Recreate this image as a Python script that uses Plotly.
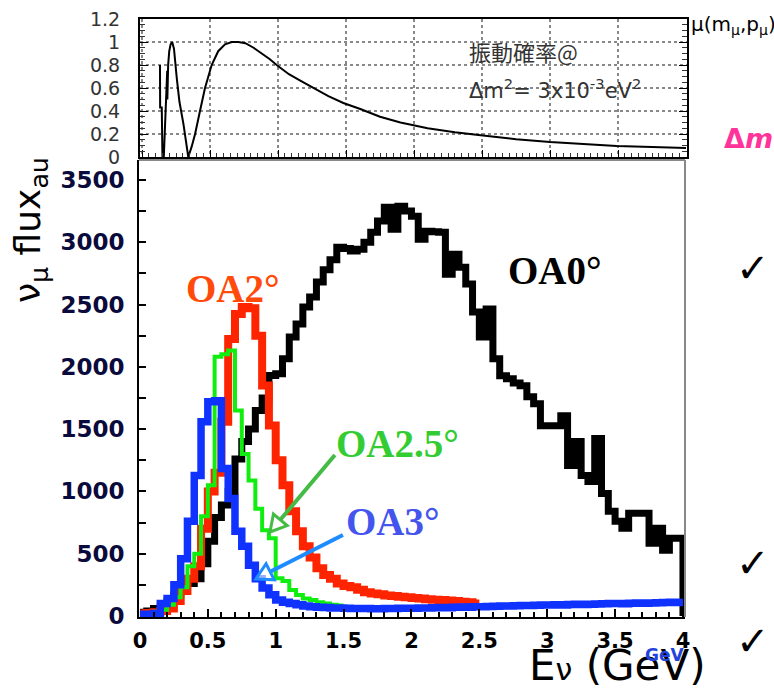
import plotly.graph_objects as go

W, H = 774, 695

# ---------------- data ----------------
BIN = 0.05  # GeV bin width of the flux histograms

# OA0 deg (black), 0-4 GeV
OA0 = [30, 40, 60, 80, 120, 170, 220, 260, 300, 420,
       600, 790, 890, 1000, 1260, 1400, 1500, 1650, 1750, 1930,
       1944, 2064, 2240, 2344, 2480, 2560, 2680, 2780, 2860, 2960,
       2950, 2930, 2944, 3000, 3080, 3170, 3280, 3104, 3288, 3250,
       3208, 3024, 3088, 3085, 3080, 2744, 2904, 2800, 2664, 2440,
       2240, 2464, 2064, 1928, 1904, 1870, 1848, 1760, 1704, 1528,
       1528, 1528, 1608, 1208, 1400, 1128, 1080, 1424, 984, 840,
       760, 704, 824, 824, 824, 584, 704, 528, 624, 624]

# OA2 deg (red), 0-2.5 GeV
OA2 = [20, 25, 30, 40, 60, 120, 200, 300, 400, 700,
       1000, 1150, 1560, 2224, 2424, 2480, 2470, 2250, 1850, 1530,
       1250, 1050, 840, 680, 560, 470, 384, 330, 300, 260,
       240, 230, 210, 190, 180, 175, 165, 160, 155, 150,
       145, 140, 135, 130, 128, 125, 120, 115, 110, 100]

# OA2.5 deg (green), 0-1.5 GeV
OA25 = [20, 25, 35, 50, 90, 150, 230, 400, 500, 800,
        1050, 2080, 2100, 2130, 1650, 1300, 1088, 860, 688, 624,
        304, 280, 208, 168, 140, 128, 110, 100, 90, 85]

# OA3 deg (blue), 0-4 GeV
OA3 = [15, 15, 20, 100, 140, 250, 460, 760, 1128, 1560,
       1720, 1728, 1184, 944, 680, 560, 408, 300, 224, 170,
       128, 110, 100, 90, 80, 75, 70, 68, 65, 64,
       62, 60, 60, 60, 58, 58, 60, 60, 62, 62,
       62, 64, 64, 66, 68, 66, 70, 72, 70, 74,
       75, 76, 78, 80, 80, 82, 84, 84, 86, 88,
       88, 90, 88, 92, 94, 92, 95, 96, 98, 100,
       100, 98, 102, 104, 102, 105, 106, 108, 110, 108]

# oscillation probability curve (top panel)
P_E = [0.132, 0.133, 0.145, 0.150, 0.160, 0.175, 0.185, 0.186, 0.192, 0.200,
       0.210, 0.222, 0.235, 0.255, 0.275, 0.304, 0.325, 0.340, 0.365, 0.390,
       0.426, 0.463, 0.512, 0.560, 0.610, 0.660, 0.708, 0.760, 0.820, 0.880,
       0.940, 0.990, 1.080, 1.170, 1.260, 1.370, 1.480, 1.600, 1.750, 1.900,
       2.100, 2.300, 2.490, 2.750, 3.000, 3.250, 3.490, 3.750, 4.000]
P_V = [0.80, 0.43, 0.43, 0.00, 0.00, 0.45, 0.75, 0.50, 0.80, 0.92,
       0.98, 1.00, 0.94, 0.69, 0.48, 0.29, 0.10, 0.00, 0.09, 0.20,
       0.40, 0.60, 0.80, 0.92, 0.98, 1.00, 1.00, 0.99, 0.95, 0.90,
       0.85, 0.80, 0.72, 0.66, 0.60, 0.53, 0.47, 0.42, 0.35, 0.30,
       0.25, 0.215, 0.19, 0.155, 0.13, 0.11, 0.096, 0.086, 0.078]

X_TICKS = [0, 0.5, 1, 1.5, 2, 2.5, 3, 3.5, 4]
X_TICKTEXT = ["0", "0.5", "1", "1.5", "2", "2.5", "3", "3.5", "4"]
Y_TICKS = [0, 500, 1000, 1500, 2000, 2500, 3000, 3500]
P_TICKS = [0, 0.2, 0.4, 0.6, 0.8, 1.0, 1.2]
P_TICKTEXT = ["0", "0.2", "0.4", "0.6", "0.8", "1", "1.2"]

# label positions (data units of the main panel)
LABELS = [("OA0°", 3.06, 2770, "#000000"),
          ("OA2°", 0.685, 2632, "#FF4A0A"),
          ("OA2.5°", 1.90, 1388, "#33CC33"),
          ("OA3°", 1.864, 762, "#4455EE")]
ARROWS = [((1.436, 1292), (0.958, 674), "#44BB44"),
          ((1.495, 650), (0.854, 297), "#1E8CFF")]

# ---------------- layout geometry ----------------
MX0, MX1, MY0, MY1 = 139, 685, 160, 617
XR = [-0.007, 4.015]
YR = [-8, 3660]
TX0, TX1, TY0, TY1 = 140, 687, 19, 157
TXR = [-0.015, 4.007]


def px_of(E, v):
    px = MX0 + (E - XR[0]) / (XR[1] - XR[0]) * (MX1 - MX0)
    py = MY1 - (v - YR[0]) / (YR[1] - YR[0]) * (MY1 - MY0)
    return px, py


def paper(px, py):
    return px / W, 1 - py / H


def steps(vals, drop=False):
    xs = [round(i * BIN, 4) for i in range(len(vals) + 1)]
    ys = list(vals) + [0 if drop else vals[-1]]
    return xs, ys


fig = go.Figure()

series = [(OA0, "#000000", 7, True),
          (OA2, "#FF2400", 8, False),
          (OA25, "#10EE10", 4, False),
          (OA3, "#0F32FF", 7.5, False)]
for vals, col, lw, drop in series:
    xs, ys = steps(vals, drop)
    fig.add_trace(go.Scatter(x=xs, y=ys, mode="lines", line=dict(color=col, width=lw, shape="hv"),
                             xaxis="x", yaxis="y", hoverinfo="skip"))

fig.add_trace(go.Scatter(x=P_E, y=P_V, mode="lines", line=dict(color="black", width=2),
                         xaxis="x2", yaxis="y2", hoverinfo="skip"))

fig.update_layout(
    width=W, height=H, margin=dict(l=0, r=0, t=0, b=0), autosize=False,
    paper_bgcolor="white", plot_bgcolor="white", showlegend=False,
    xaxis=dict(domain=[MX0 / W, MX1 / W], range=XR, anchor="y", showline=True, linecolor="black",
               linewidth=2, ticks="inside", ticklen=8, tickwidth=1.5, tickcolor="black",
               tickvals=X_TICKS, ticktext=X_TICKTEXT, ticklabelstandoff=4,
               tickfont=dict(family="DejaVu Sans", size=21, color="black", weight="bold"),
               minor=dict(tick0=0, dtick=0.1, ticks="inside", ticklen=5, tickcolor="black", showgrid=False),
               showgrid=False, zeroline=False, automargin=False),
    yaxis=dict(domain=[1 - MY1 / H, 1 - MY0 / H], range=YR, anchor="x", showline=True, linecolor="black",
               linewidth=2, ticks="inside", ticklen=7, tickwidth=1.5, tickcolor="black",
               tickvals=Y_TICKS, ticklabelstandoff=8,
               tickfont=dict(family="DejaVu Sans", size=23, color="#0a0a3c", weight="bold"),
               minor=dict(tick0=0, dtick=250, ticks="inside", ticklen=7, tickcolor="black", showgrid=False),
               showgrid=False, zeroline=False, automargin=False),
    xaxis2=dict(domain=[TX0 / W, TX1 / W], range=TXR, anchor="y2", showline=True, linecolor="black",
                linewidth=2, mirror=True, ticks="inside", ticklen=7, tickcolor="black", dtick=0.5, tick0=0,
                showticklabels=False, showgrid=True, gridcolor="#888", griddash="dot", gridwidth=1.5,
                minor=dict(tick0=0, dtick=0.05, ticks="inside", ticklen=4, tickcolor="#333", showgrid=False),
                zeroline=False, automargin=False),
    yaxis2=dict(domain=[1 - TY1 / H, 1 - TY0 / H], range=[0, 1.2], anchor="x2", showline=True,
                linecolor="black", linewidth=2, mirror="ticks", ticks="inside", ticklen=8, tickcolor="black",
                tickvals=P_TICKS, ticktext=P_TICKTEXT, ticklabelstandoff=14,
                tickfont=dict(family="DejaVu Sans", size=19, color="#333"),
                showgrid=True, gridcolor="#888", griddash="dot", gridwidth=1.5,
                minor=dict(tick0=0, dtick=0.05, ticks="inside", ticklen=5, tickcolor="#333", showgrid=False),
                zeroline=False, automargin=False),
)

shapes = []
# grey top / right border of the main frame
for (a, b) in [((MX0, MY0), (MX1, MY0)), ((MX1, MY0), (MX1, MY1))]:
    x0, y0 = paper(*a)
    x1, y1 = paper(*b)
    shapes.append(dict(type="line", xref="paper", yref="paper", x0=x0, y0=y0, x1=x1, y1=y1,
                       line=dict(color="#888", width=2)))

# hollow-head arrows
for tail, tip, col in ARROWS:
    tx, ty = px_of(*tail)
    hx, hy = px_of(*tip)
    dx, dy = hx - tx, hy - ty
    n = (dx * dx + dy * dy) ** 0.5
    ux, uy = dx / n, dy / n
    L, Wd = 16, 9
    bx, by = hx - L * ux, hy - L * uy
    c1 = (bx + Wd * uy, by - Wd * ux)
    c2 = (bx - Wd * uy, by + Wd * ux)
    p0, p1 = paper(tx, ty), paper(bx, by)
    shapes.append(dict(type="line", xref="paper", yref="paper", x0=p0[0], y0=p0[1], x1=p1[0], y1=p1[1],
                       line=dict(color=col, width=4)))
    pts = [paper(hx, hy), paper(*c1), paper(*c2)]
    path = "M {} {} L {} {} L {} {} Z".format(pts[0][0], pts[0][1], pts[1][0], pts[1][1], pts[2][0], pts[2][1])
    shapes.append(dict(type="path", xref="paper", yref="paper", path=path,
                       line=dict(color=col, width=3), fillcolor="rgba(255,255,255,0.6)"))
fig.update_layout(shapes=shapes)

ann = []
for txt, xe, yv, col in LABELS:
    ann.append(dict(x=xe, y=yv, xref="x", yref="y", text="<b>" + txt + "</b>", showarrow=False,
                    xanchor="center", yanchor="middle",
                    font=dict(family="Liberation Serif", size=39, color=col)))


def pann(text, px, py, size, color="black", family="DejaVu Sans", xanchor="center", angle=0):
    x, y = paper(px, py)
    return dict(x=x, y=y, xref="paper", yref="paper", text=text, showarrow=False, xanchor=xanchor,
                yanchor="middle", textangle=angle, font=dict(family=family, size=size, color=color))


ann.append(pann("ν<sub>μ</sub> flux<sub>au</sub>", 31, 230, 36, angle=-90))
ann.append(pann("E<span style='font-size:30px'>ν</span> (GeV)", 617, 665, 42))
ann.append(pann("<b>GeV</b>", 664, 655, 17, color="#2244DD"))
ann.append(pann("振動確率@", 467, 51, 22, color="#333", family="Noto Sans CJK JP", xanchor="left"))
ann.append(pann("Δm<sup>2</sup>= 3x10<sup>-3</sup>eV<sup>2</sup>", 467, 89, 21, color="#333", xanchor="left"))
ann.append(pann("μ(m<sub>μ</sub>,p<sub>μ</sub>)", 689, 25, 20, xanchor="left"))
ann.append(pann("<b>Δ<i>m</i></b>", 722, 139, 27, color="#FF3399", xanchor="left"))
for cy in (268, 563, 641):
    ann.append(pann("<b>✓</b>", 753, cy, 40))
fig.update_layout(annotations=ann)

fig.write_html("out.html")
